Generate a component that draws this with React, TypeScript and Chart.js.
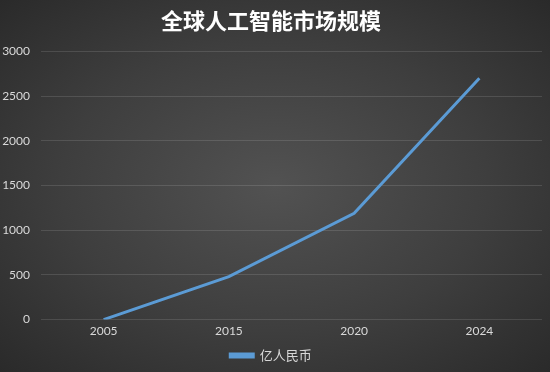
import React, { useEffect, useRef } from "react";
import { Chart, registerables } from "chart.js";

Chart.register(...registerables);

const categories = ["2005", "2015", "2020", "2024"];
const seriesName = "亿人民币";
const values = [0, 480, 1190, 2700];
const titleText = "全球人工智能市场规模";

const FONT = "Lato, 'Noto Sans CJK SC', sans-serif";

export default function App() {
  const ref = useRef<HTMLCanvasElement | null>(null);

  useEffect(() => {
    document.body.style.margin = "0";
    const canvas = ref.current;
    if (!canvas) return;
    const chart = new Chart(canvas, {
      type: "line",
      data: {
        labels: categories,
        datasets: [
          {
            label: seriesName,
            data: values,
            borderColor: "#5b9bd5",
            backgroundColor: "#5b9bd5",
            borderWidth: 3,
            pointRadius: 0,
            tension: 0,
          },
        ],
      },
      options: {
        animation: false,
        responsive: false,
        maintainAspectRatio: false,
        layout: { padding: { left: 0, right: 8, top: 0, bottom: 0 } },
        plugins: {
          title: {
            display: true,
            text: titleText,
            color: "#ffffff",
            font: { family: "'Noto Sans CJK SC', sans-serif", size: 22, weight: "bold" },
            padding: { top: 7, bottom: 18 },
          },
          legend: {
            display: true,
            position: "bottom",
            labels: {
              color: "#d9d9d9",
              font: { family: "'Noto Sans CJK SC', sans-serif", size: 13 },
              boxWidth: 23,
              boxHeight: 3,
              padding: 7,
            },
          },
          tooltip: { enabled: false },
        },
        scales: {
          x: {
            offset: true,
            grid: { display: false, drawTicks: false },
            border: { display: false },
            ticks: { color: "#d9d9d9", font: { family: FONT, size: 12 }, padding: 4 },
          },
          y: {
            min: 0,
            max: 3000,
            afterFit: (scale: any) => {
              scale.width = 41;
            },
            grid: { color: "rgba(255,255,255,0.12)", lineWidth: 1, drawTicks: false },
            border: { display: false },
            ticks: {
              stepSize: 500,
              color: "#d9d9d9",
              font: { family: FONT, size: 12 },
              padding: 11,
              callback: (v: any) => String(v),
            },
          },
        },
      },
    });
    return () => chart.destroy();
  }, []);

  return (
    <div
      style={{
        position: "absolute",
        left: 0,
        top: 0,
        width: 550,
        height: 372,
        background: "radial-gradient(ellipse at 50% 50%, #525252 0%, #3e3e3e 55%, #2a2a2a 100%)",
      }}
    >
      <canvas ref={ref} width={550} height={372} style={{ display: "block" }} />
    </div>
  );
}
